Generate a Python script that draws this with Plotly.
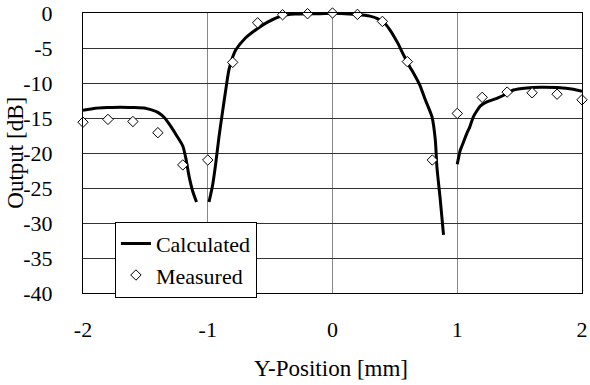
import plotly.graph_objects as go

# Calculated curve (three branches separated by gaps)
calc_left_x = [-2.0, -1.9, -1.8, -1.7, -1.6, -1.5, -1.45, -1.4, -1.35, -1.3, -1.25, -1.2, -1.175, -1.15, -1.12, -1.09]
calc_left_y = [-13.9, -13.6, -13.5, -13.45, -13.5, -13.6, -13.85, -14.2, -14.9, -16.1, -17.5, -19.0, -20.8, -23.3, -25.5, -27.0]

calc_mid_x = [-0.99, -0.963, -0.936, -0.91, -0.883, -0.86, -0.83, -0.8, -0.776, -0.7, -0.6, -0.52, -0.4, -0.3, -0.2, -0.1,
              0.0, 0.1, 0.2, 0.3, 0.36, 0.42, 0.46, 0.52, 0.57, 0.62, 0.65, 0.7, 0.744, 0.797, 0.824, 0.837, 0.864, 0.89]
calc_mid_y = [-27.0, -24.8, -21.5, -17.7, -14.3, -11.5, -8.1, -6.3, -5.3, -3.6, -2.2, -1.3, -0.35, -0.15, -0.1, -0.1,
              -0.05, -0.1, -0.2, -0.45, -0.8, -1.5, -2.4, -4.2, -6.0, -7.7, -8.6, -10.3, -12.4, -14.8, -18.1, -22.0, -26.7, -31.7]

calc_right_x = [1.0, 1.024, 1.04, 1.077, 1.1, 1.13, 1.16, 1.184, 1.237, 1.317, 1.4, 1.45, 1.557, 1.664, 1.8, 1.93, 2.0]
calc_right_y = [-21.6, -19.6, -18.9, -17.2, -16.3, -14.8, -13.9, -13.3, -12.7, -12.2, -11.5, -11.0, -10.7, -10.6, -10.65, -10.9, -11.2]

# Measured points
meas_x = [-2.0, -1.8, -1.6, -1.4, -1.2, -1.0, -0.8, -0.6, -0.4, -0.2, 0.0, 0.2, 0.4, 0.6, 0.8, 1.0, 1.2, 1.4, 1.6, 1.8, 2.0]
meas_y = [-15.6, -15.2, -15.5, -17.1, -21.7, -21.0, -7.05, -1.4, -0.25, -0.1, 0.0, -0.2, -1.2, -6.95, -21.0, -14.35, -12.05, -11.3, -11.4, -11.6, -12.4]

x_ticks = [-2, -1, 0, 1, 2]
y_ticks = [-40, -35, -30, -25, -20, -15, -10, -5, 0]

x_title = "Y-Position [mm]"
y_title = "Output [dB]"

calc_x = calc_left_x + [None] + calc_mid_x + [None] + calc_right_x
calc_y = calc_left_y + [None] + calc_mid_y + [None] + calc_right_y

FONT = "Liberation Serif"
FS = 22
FT = 23

fig = go.Figure()
fig.add_trace(go.Scatter(
    x=calc_x, y=calc_y, mode="lines", name="Calculated",
    line=dict(color="black", width=3, shape="spline", smoothing=0.6),
    connectgaps=False, legendgroup="a", cliponaxis=False,
))
fig.add_trace(go.Scatter(
    x=meas_x, y=meas_y, mode="markers", name="Measured",
    marker=dict(symbol="diamond", size=8, color="white", line=dict(color="black", width=1)),
    legendgroup="b", cliponaxis=False,
))

fig.update_layout(
    width=590, height=385,
    margin=dict(l=83, r=8, t=13, b=92, autoexpand=False),
    paper_bgcolor="white", plot_bgcolor="white",
    font=dict(family=FONT, size=FS, color="black"),
    showlegend=True,
    legend=dict(
        x=0.064, y=0.255, xanchor="left", yanchor="top",
        bgcolor="white", bordercolor="black", borderwidth=1,
        font=dict(family=FONT, size=FS, color="black"),
        traceorder="grouped", tracegroupgap=0,
        itemwidth=30,
    ),
    xaxis=dict(
        range=[-2, 2], tickvals=x_ticks, ticktext=[str(v) for v in x_ticks],
        showgrid=True, gridcolor="#888888", gridwidth=1,
        zeroline=False, showline=True, linecolor="black", linewidth=1, mirror=True,
        ticks="", ticklabelstandoff=17,
        tickfont=dict(family=FONT, size=FS, color="black"),
        automargin=False,
    ),
    yaxis=dict(
        range=[-40, 0], tickvals=y_ticks, ticktext=[str(v) for v in y_ticks],
        showgrid=True, gridcolor="#333333", gridwidth=1,
        zeroline=False, showline=True, linecolor="black", linewidth=1, mirror=True,
        ticks="outside", ticklen=25, tickcolor="rgba(0,0,0,0)",
        tickfont=dict(family=FONT, size=FS, color="black"),
        automargin=False,
    ),
    annotations=[
        dict(text=x_title, xref="paper", yref="paper", x=0.497, y=-0.271,
             xanchor="center", yanchor="middle", showarrow=False,
             font=dict(family=FONT, size=FT, color="black")),
        dict(text=y_title, xref="paper", yref="paper", x=-0.137, y=0.5,
             xanchor="center", yanchor="middle", showarrow=False, textangle=-90,
             font=dict(family=FONT, size=FT, color="black")),
    ],
)

fig.write_html("out.html")
